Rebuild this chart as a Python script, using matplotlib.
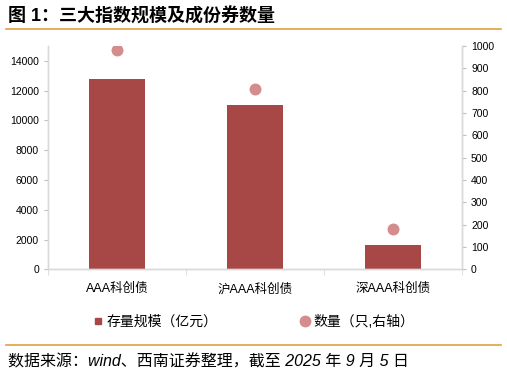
import matplotlib.pyplot as plt
from matplotlib.lines import Line2D
import numpy as np

plt.rcParams['font.family'] = ['Liberation Sans', 'Noto Sans CJK SC', 'DejaVu Sans']

categories = ['AAA科创债', '沪AAA科创债', '深AAA科创债']
scale = [12760, 11030, 1660]   # 存量规模（亿元）
count = [982, 806, 180]        # 数量（只）

bar_color = '#A84846'
dot_color = '#D48C8C'
line_color = '#E0A040'
spine_color = '#D9D9D9'

fig = plt.figure(figsize=(5.07, 3.77), dpi=100)
ax = fig.add_axes([0.0947, 0.2857, 0.8166, 0.5923])
x = np.arange(len(categories))
ax.bar(x, scale, width=0.4, color=bar_color, zorder=2)
ax.set_xlim(-0.5, 2.5)
ax.set_ylim(0, 15000)
ax.set_yticks(range(0, 14001, 2000))

ax2 = ax.twinx()
ax2.scatter(x, count, s=74, color=dot_color, zorder=3, linewidths=0)
ax2.set_ylim(0, 1000)
ax2.set_yticks(range(0, 1001, 100))

for a in (ax, ax2):
    a.spines['top'].set_visible(False)
    for s in ('left', 'right', 'bottom'):
        a.spines[s].set_color(spine_color)
        a.spines[s].set_linewidth(1)
    a.tick_params(axis='y', length=3, color='#BFBFBF', labelsize=7.5, pad=3.5, labelcolor='#000000')

ax.set_xticks(x)
ax.set_xticklabels(categories, fontsize=9)
ax.set_xticks([-0.5, 0.5, 1.5, 2.5], minor=True)
ax.tick_params(axis='x', which='major', length=0, pad=10)
ax.tick_params(axis='x', which='minor', length=4, color=spine_color)

# title and separators
fig.text(0.016, 0.955, '图 1：三大指数规模及成份券数量', fontsize=13, weight='bold',
         va='center', ha='left')
fig.add_artist(Line2D([0.012, 0.988], [0.923, 0.923], color=line_color, lw=1.2))
fig.add_artist(Line2D([0.012, 0.988], [0.085, 0.085], color=line_color, lw=1.2))

handles = [
    Line2D([], [], marker='s', ls='none', color=bar_color, markersize=4.5),
    Line2D([], [], marker='o', ls='none', color=dot_color, markersize=7.5),
]
fig.legend(handles, ['存量规模（亿元）', '数量（只,右轴）'], loc='center',
           bbox_to_anchor=(0.501, 0.146), ncol=2, frameon=False, fontsize=10,
           columnspacing=6.0, handlelength=0.6, handletextpad=0.3)

fig.text(0.016, 0.04, '数据来源：wind、西南证券整理，截至 2025 年 9 月 5 日',
         fontsize=11.5, style='italic', va='center', ha='left')

fig.savefig('out.png', dpi=100)
